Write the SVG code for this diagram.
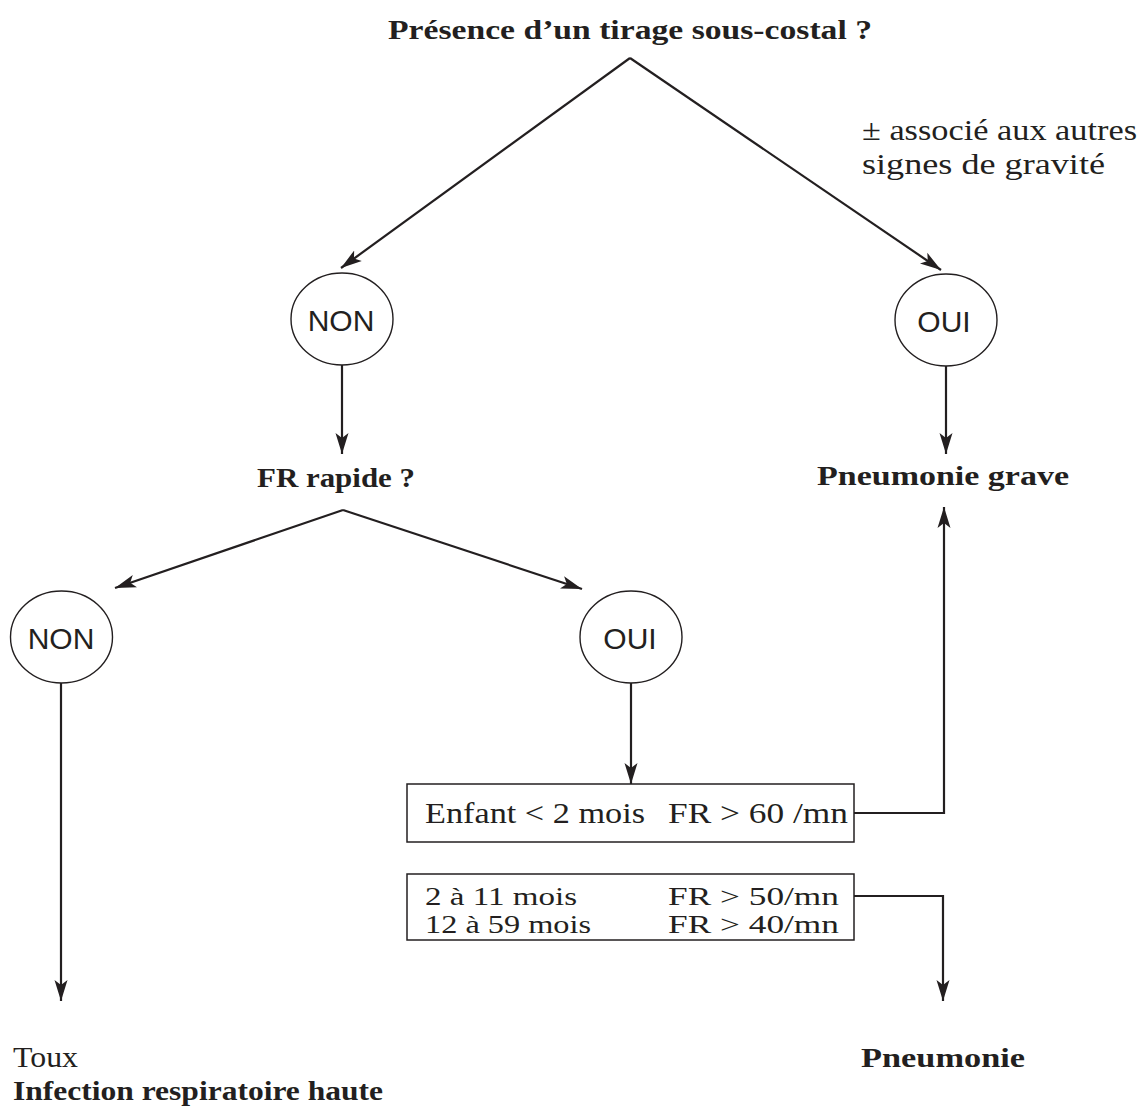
<svg xmlns="http://www.w3.org/2000/svg" width="1143" height="1108" viewBox="0 0 1143 1108">
<style>
.b{font-family:"Liberation Serif",serif;font-weight:bold;font-size:28px;fill:#231f20}
.r{font-family:"Liberation Serif",serif;font-size:29px;fill:#231f20}
.r2{font-family:"Liberation Serif",serif;font-size:25px;fill:#231f20}
.s{font-family:"Liberation Sans",Arial,sans-serif;font-size:30px;fill:#231f20}
.e{fill:#fff;stroke:#231f20;stroke-width:1.4}
.box{fill:#fff;stroke:#231f20;stroke-width:1.5}
.c{fill:none;stroke:#231f20;stroke-width:2.2}
</style>
<defs>
<marker id="ah" markerUnits="userSpaceOnUse" markerWidth="22" markerHeight="16" viewBox="0 -8 22 16" refX="21" refY="0" orient="auto">
<path d="M0,-6.5 L21,0 L0,6.5 L5,0 Z" fill="#231f20"/>
</marker>
</defs>
<rect width="1143" height="1108" fill="#fff"/>
<g id="connectors">
<line class="c" x1="630" y1="58" x2="341" y2="268" marker-end="url(#ah)"/>
<line class="c" x1="630" y1="58" x2="941" y2="270" marker-end="url(#ah)"/>
<line class="c" x1="342" y1="365" x2="342" y2="454" marker-end="url(#ah)"/>
<line class="c" x1="946" y1="366" x2="946" y2="454" marker-end="url(#ah)"/>
<line class="c" x1="343" y1="510" x2="115" y2="588" marker-end="url(#ah)"/>
<line class="c" x1="343" y1="510" x2="582" y2="589" marker-end="url(#ah)"/>
<line class="c" x1="61" y1="683" x2="61" y2="1001" marker-end="url(#ah)"/>
<line class="c" x1="631" y1="683" x2="631" y2="784" marker-end="url(#ah)"/>
<polyline class="c" points="854,813 944,813 944,507" marker-end="url(#ah)"/>
<polyline class="c" points="854,896 943,896 943,1001" marker-end="url(#ah)"/>
</g>
<g id="q1"><text class="b" x="630" y="39" text-anchor="middle" textLength="484" lengthAdjust="spacingAndGlyphs">Présence d’un tirage sous-costal ?</text></g>
<g id="note"><text class="r" x="862" y="140" textLength="275" lengthAdjust="spacingAndGlyphs">± associé aux autres</text>
<text class="r" x="862" y="174" textLength="243" lengthAdjust="spacingAndGlyphs">signes de gravité</text></g>
<g id="non1"><ellipse class="e" cx="342" cy="319" rx="51" ry="46"/><text class="s" x="341" y="331" text-anchor="middle">NON</text></g>
<g id="oui1"><ellipse class="e" cx="946" cy="320" rx="51" ry="46"/><text class="s" x="944" y="332" text-anchor="middle">OUI</text></g>
<g id="q2"><text class="b" x="336" y="487" text-anchor="middle" textLength="158" lengthAdjust="spacingAndGlyphs">FR rapide ?</text></g>
<g id="grave"><text class="b" x="943" y="485" text-anchor="middle" textLength="252" lengthAdjust="spacingAndGlyphs">Pneumonie grave</text></g>
<g id="non2"><ellipse class="e" cx="61.5" cy="637" rx="51" ry="46"/><text class="s" x="61" y="649" text-anchor="middle">NON</text></g>
<g id="oui2"><ellipse class="e" cx="631" cy="637" rx="51" ry="46"/><text class="s" x="630" y="649" text-anchor="middle">OUI</text></g>
<g id="box1"><rect class="box" x="407" y="784" width="447" height="58"/>
<text class="r" x="425" y="823" textLength="220" lengthAdjust="spacingAndGlyphs">Enfant &lt; 2 mois</text><text class="r" x="668" y="823" textLength="180" lengthAdjust="spacingAndGlyphs">FR &gt; 60 /mn</text></g>
<g id="box2"><rect class="box" x="407" y="874" width="447" height="66"/>
<text class="r2" x="425" y="905" textLength="152" lengthAdjust="spacingAndGlyphs">2 à 11 mois</text><text class="r2" x="668" y="905" textLength="171" lengthAdjust="spacingAndGlyphs">FR &gt; 50/mn</text>
<text class="r2" x="425" y="933" textLength="166" lengthAdjust="spacingAndGlyphs">12 à 59 mois</text><text class="r2" x="668" y="933" textLength="171" lengthAdjust="spacingAndGlyphs">FR &gt; 40/mn</text></g>
<g id="toux"><text class="r" x="13" y="1067" textLength="65" lengthAdjust="spacingAndGlyphs">Toux</text>
<text class="b" x="13" y="1100" textLength="370" lengthAdjust="spacingAndGlyphs">Infection respiratoire haute</text></g>
<g id="pneu"><text class="b" x="943" y="1067" text-anchor="middle" textLength="164" lengthAdjust="spacingAndGlyphs">Pneumonie</text></g>
</svg>
